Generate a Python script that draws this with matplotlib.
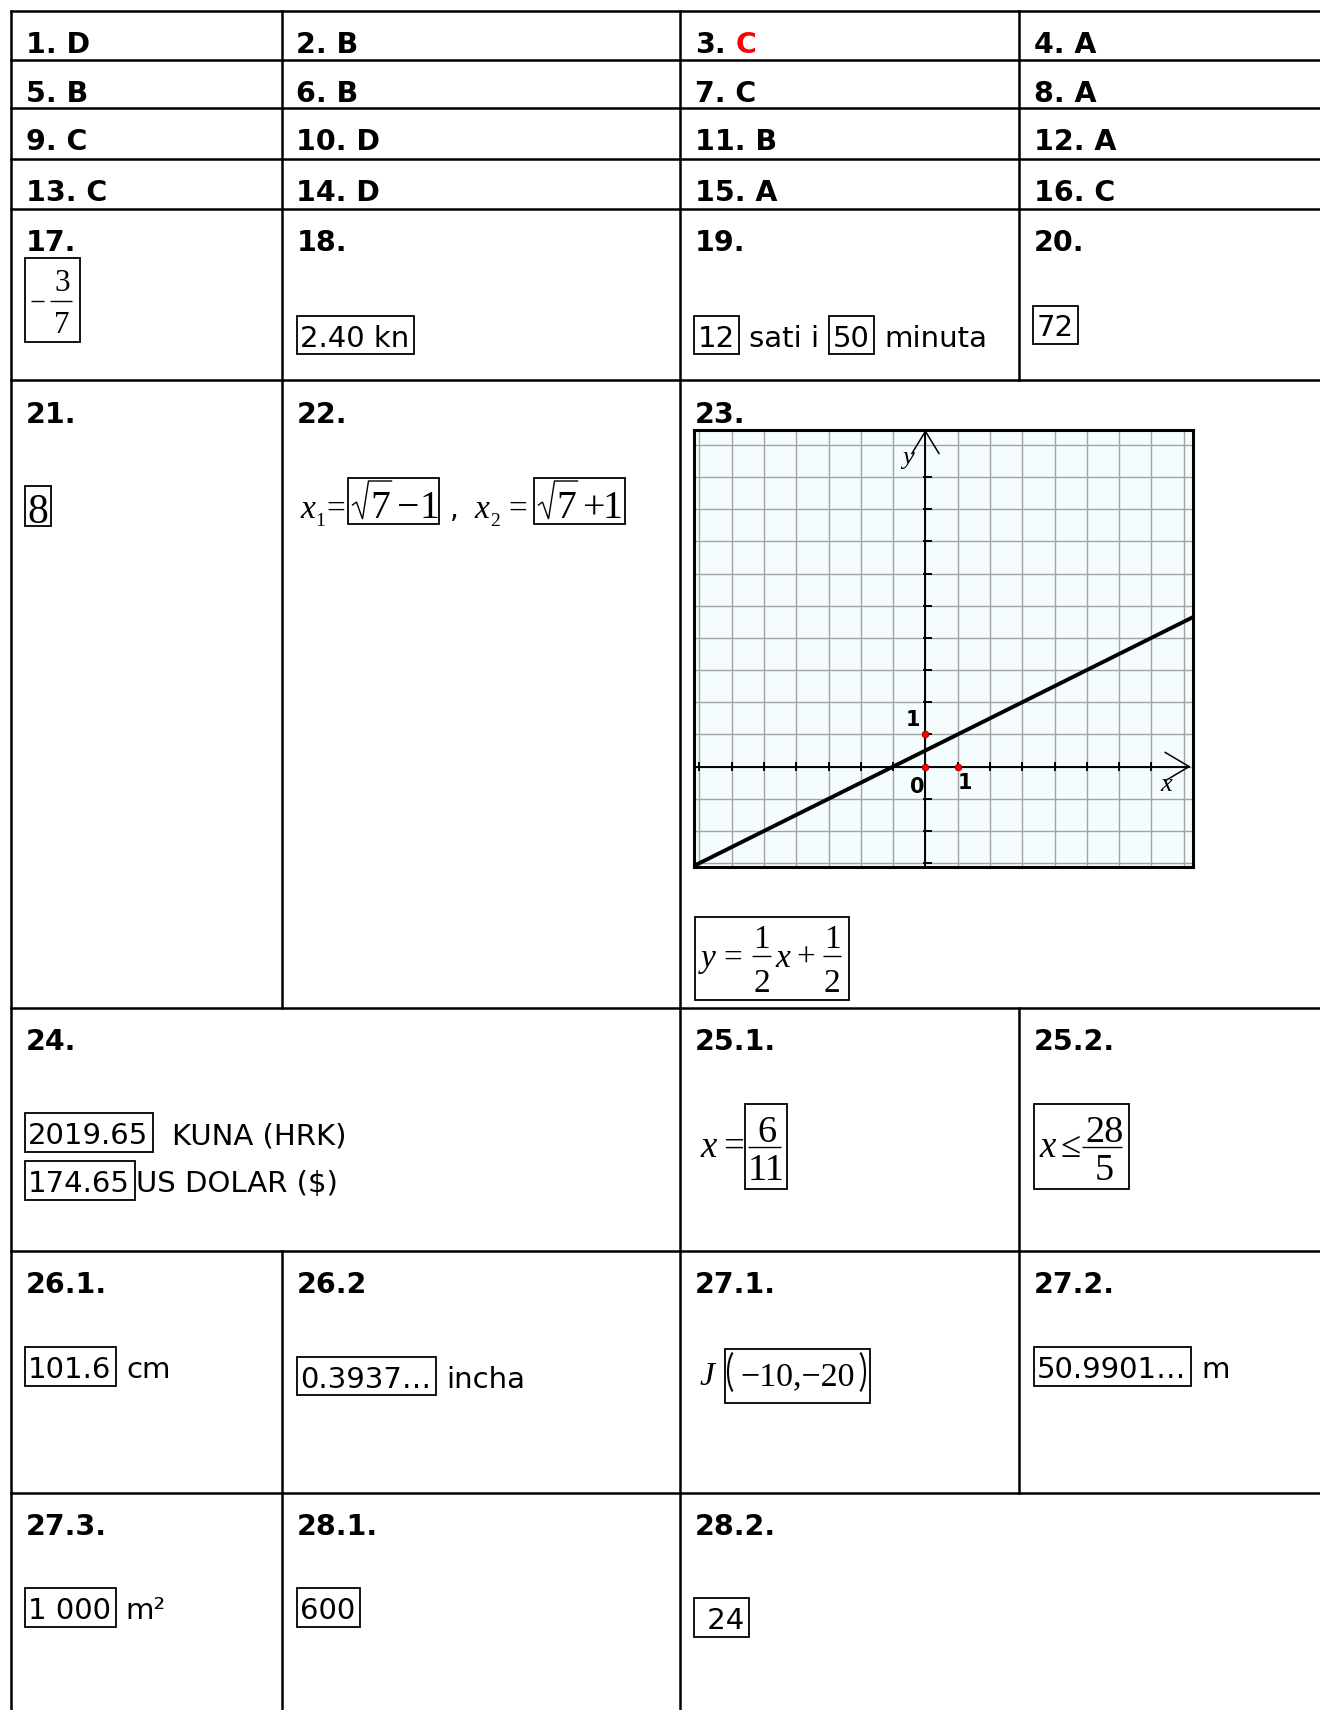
import matplotlib
matplotlib.use('Agg')
import matplotlib.pyplot as plt
from matplotlib.patches import Rectangle, Arc

# multiple choice answers 1-16 (four per row), question 3 printed in red
mc_answers = ['D', 'B', 'C', 'A', 'B', 'B', 'C', 'A', 'C', 'D', 'B', 'A', 'C', 'D', 'A', 'C']
mc_red = [3]

# task numbers of the open questions and the cell (row, column) they sit in
open_labels = ['17.', '18.', '19.', '20.', '21.', '22.', '23.', '24.', '25.1.', '25.2.',
               '26.1.', '26.2', '27.1.', '27.2.', '27.3.', '28.1.', '28.2.']
open_cells = [(4, 0), (4, 1), (4, 2), (4, 3), (5, 0), (5, 1), (5, 2), (6, 0), (6, 2), (6, 3),
              (7, 0), (7, 1), (7, 2), (7, 3), (8, 0), (8, 1), (8, 2)]

# boxed answers written in plain text
ans18 = '2.40 kn'
ans19 = ['12', 'sati i', '50', 'minuta']
ans20 = '72'
ans24 = [['2019.65', 'KUNA (HRK)'], ['174.65', 'US DOLAR ($)']]
ans26_1 = ['101.6', 'cm']
ans26_2 = ['0.3937…', 'incha']
ans27_2 = ['50.9901…', 'm']
ans27_3 = ['1 000', 'm²']
ans28_1 = '600'
ans28_2 = ' 24'

# answers in formula style
ans17 = ['3', '7']
ans21 = '8'
ans22 = ['−1', '+1']
ans25_1 = ['6', '11']
ans25_2 = ['28', '5']
ans27_1 = '−10,−20'

# graph of task 23
line_x = [-7.2, 8.3]
line_y = [-3.1, 4.65]
pts_x = [0, 0, 1]
pts_y = [0, 1, 0]

W, H = 1320, 1710
SANS = 'DejaVu Sans'
SERIF = 'Liberation Serif'
HEAD = 20.5
ANS = 21.0
EM = ANS * 100 / 72

fig = plt.figure(figsize=(W / 100, H / 100), dpi=100)
ax = fig.add_axes([0, 0, 1, 1])
ax.set_xlim(0, W)
ax.set_ylim(H, 0)
ax.axis('off')
renderer = fig.canvas.get_renderer()
inv = ax.transData.inverted()


def right_of(t):
    bb = t.get_window_extent(renderer)
    return inv.transform([[bb.x1, bb.y1]])[0][0]


#table grid
cols = [10.5, 281.5, 680, 1018.5]
rows = [11, 60, 108.5, 159, 208.7, 380.5, 1007.5, 1250.5, 1493]
LW = 1.8
for r in rows:
    ax.plot([cols[0], W], [r, r], color='black', lw=LW, solid_capstyle='projecting')
vsegs = [(cols[0], rows[0], H), (cols[1], rows[0], rows[6]), (cols[1], rows[7], H),
         (cols[2], rows[0], H), (cols[3], rows[0], rows[5]), (cols[3], rows[6], rows[8])]
for x, y0, y1 in vsegs:
    ax.plot([x, x], [y0, y1], color='black', lw=LW, solid_capstyle='projecting')


def head(r, c, s, color='black'):
    return ax.text(cols[c] + 15, rows[r] + 42, s, fontsize=HEAD, fontweight='bold',
                   family=SANS, va='baseline', ha='left', color=color)


#multiple choice rows
for i, a in enumerate(mc_answers):
    r, c = i // 4, i % 4
    if i + 1 in mc_red:
        full = head(r, c, f'{i + 1}. {a}')
        full.set_alpha(0)
        xr = right_of(full)
        head(r, c, f'{i + 1}.')
        ax.text(xr, rows[r] + 42, a, fontsize=HEAD, fontweight='bold', family=SANS,
                va='baseline', ha='right', color='#ff0000')
    else:
        head(r, c, f'{i + 1}. {a}')

for s, (r, c) in zip(open_labels, open_cells):
    head(r, c, s)


def boxed_line(x, y, parts):
    # parts: text, boxed?, gap before
    for s, boxed, gap in parts:
        x += gap
        if boxed:
            t = ax.text(x + 3.5, y, s, fontsize=ANS, family=SANS, va='baseline')
            x1 = right_of(t) + 4.5
            ax.add_patch(Rectangle((x, y - 1.06 * EM), x1 - x, 1.32 * EM,
                                   fill=False, ec='black', lw=1.3))
            x = x1
        else:
            t = ax.text(x, y, s, fontsize=ANS, family=SANS, va='baseline')
            x = right_of(t)


boxed_line(296.7, 346.7, [(ans18, True, 0)])
boxed_line(694, 346.7, [(ans19[0], True, 0), (ans19[1], False, 10),
                        (ans19[2], True, 10), (ans19[3], False, 10)])
boxed_line(1033, 336.5, [(ans20, True, 0)])
boxed_line(24.7, 1144, [(ans24[0][0], True, 0), (ans24[0][1], False, 19)])
boxed_line(24.7, 1192.3, [(ans24[1][0], True, 0), (ans24[1][1], False, 1)])
boxed_line(24.7, 1378.3, [(ans26_1[0], True, 0), (ans26_1[1], False, 10)])
boxed_line(297, 1387.7, [(ans26_2[0], True, 0), (ans26_2[1], False, 10)])
boxed_line(1033.5, 1378.3, [(ans27_2[0], True, 0), (ans27_2[1], False, 10)])
boxed_line(24.7, 1619, [(ans27_3[0], True, 0), (ans27_3[1], False, 10)])
boxed_line(297, 1619, [(ans28_1, True, 0)])
boxed_line(694.3, 1629, [(ans28_2, True, 0)])


def st(x, y, s, size, italic=False, ha='left'):
    ax.text(x, y, s, fontsize=size, family=SERIF, style='italic' if italic else 'normal',
            va='baseline', ha=ha)


def bline(x0, x1, y, lw=1.0):
    ax.plot([x0, x1], [y, y], color='black', lw=lw, solid_capstyle='butt')


def frac(cx, x0, x1, ybar, num, den, size, dy_num, dy_den):
    bline(x0, x1, ybar)
    st(cx, ybar - dy_num, num, size, ha='center')
    st(cx, ybar + dy_den, den, size, ha='center')


def box(x0, y0, x1, y1):
    ax.add_patch(Rectangle((x0, y0), x1 - x0, y1 - y0, fill=False, ec='black', lw=1.3))


def radical(x, y_base, top, x_end):
    ax.plot([x, x + 4, x + 10, x + 16, x_end], [y_base - 13, y_base - 16, y_base + 1, top, top],
            color='black', lw=1.0, solid_joinstyle='miter')


#17
box(24.7, 258, 80, 342)
bline(31, 44, 301)
frac(62, 50, 72, 301, ans17[0], ans17[1], 22.5, 10, 32)

#21
box(24.5, 486, 51.2, 525.7)
st(37.8, 523, ans21, 30, ha='center')

#22
for k, (xx, xs, xe) in enumerate([(300, 315, 326), (474, 490, 508)]):
    st(xx, 518, 'x', 24, italic=True)
    st(xs, 526, str(k + 1), 14)
    st(xe, 518, '=', 24)
for k, (xb, w) in enumerate([(347.5, 91), (533.5, 91)]):
    box(xb, 478, xb + w, 524)
    radical(xb + 5, 518, 481, xb + 44)
    st(xb + 22.5, 518, '7', 28.5)
    st(xb + 49.5, 518, ans22[k][0], 28.5)
    st(xb + (81.5 if k == 0 else 79), 518, ans22[k][1], 28.5, ha='center')
ax.text(450, 518, ',', fontsize=20, family=SANS, va='baseline')

#23 equation
box(695, 917, 849.3, 1000)
st(701, 967, 'y', 24, italic=True)
st(723, 967, '=', 24)
frac(761.5, 752, 771, 956, '1', '2', 24, 8, 36)
st(775.5, 967, 'x', 24, italic=True)
st(796, 967, '+', 24)
frac(832, 822.5, 841, 956, '1', '2', 24, 8, 36)

#25.1
st(700, 1156.7, 'x', 26.5, italic=True)
st(723.5, 1156.7, '=', 26.5)
box(745.3, 1104.3, 787.3, 1189.3)
frac(766.5, 748, 781, 1146.7, ans25_1[0], ans25_1[1], 27.5, 5, 33.3)

#25.2
box(1033.5, 1104.3, 1129, 1189.3)
st(1039, 1156.7, 'x', 26.5, italic=True)
st(1060.5, 1156.7, '≤', 26.5)
frac(1104.5, 1082, 1121.6, 1146.7, ans25_2[0], ans25_2[1], 27.5, 5, 33.3)

#27.1
st(699, 1385, 'J', 24, italic=True)
box(725, 1349, 869.8, 1402.7)
ax.add_patch(Arc((740.5, 1372), 25, 50, theta1=112, theta2=248, lw=1.5, color='black'))
ax.add_patch(Arc((852.5, 1372), 25, 50, theta1=-68, theta2=68, lw=1.5, color='black'))
st(740, 1385, ans27_1, 24.5)

#graph of task 23
gx = fig.add_axes([694 / W, 1 - 867 / H, 499 / W, 437 / H])
gx.set_xlim(-7.17, 8.29)
gx.set_ylim(-3.12, 10.46)
gx.set_facecolor('#f4fcfe')
gx.set_xticks(range(-7, 9))
gx.set_yticks(range(-3, 11))
gx.grid(True, color='#a3a3a3', lw=1.0)
gx.tick_params(length=0, labelbottom=False, labelleft=False)
for sp in gx.spines.values():
    sp.set_linewidth(2.2)
    sp.set_color('black')
gx.set_axisbelow(True)

gx.plot([-7.17, 8.17], [0, 0], color='black', lw=1.4)
gx.plot([0, 0], [-3.12, 10.42], color='black', lw=1.4)
gx.plot([7.43, 8.17, 7.43], [0.44, 0, -0.44], color='black', lw=1.1)
gx.plot([-0.42, 0, 0.42], [9.73, 10.42, 9.73], color='black', lw=1.1)
for t in range(-7, 8):
    gx.plot([t, t], [-0.12, 0.12], color='black', lw=1.4)
for t in range(-3, 10):
    gx.plot([-0.05, 0.18], [t, t], color='black', lw=1.4)

gx.plot(line_x, line_y, color='black', lw=2.8, solid_capstyle='butt')
gx.plot(pts_x, pts_y, 'o', ms=4.6, mfc='#ff0000', mec='#b00000', mew=0.8, zorder=5)

gx.text(-0.38, 1.46, '1', fontsize=15, fontweight='bold', family=SANS, ha='center', va='center')
gx.text(-0.26, -0.62, '0', fontsize=15, fontweight='bold', family=SANS, ha='center', va='center')
gx.text(1.23, -0.5, '1', fontsize=15, fontweight='bold', family=SANS, ha='center', va='center')
gx.text(7.45, -0.56, 'x', fontsize=19, style='italic', family=SERIF, ha='center', va='center')
gx.text(-0.53, 9.59, 'y', fontsize=19, style='italic', family=SERIF, ha='center', va='center')

fig.savefig('out.png', dpi=100, facecolor='white')
